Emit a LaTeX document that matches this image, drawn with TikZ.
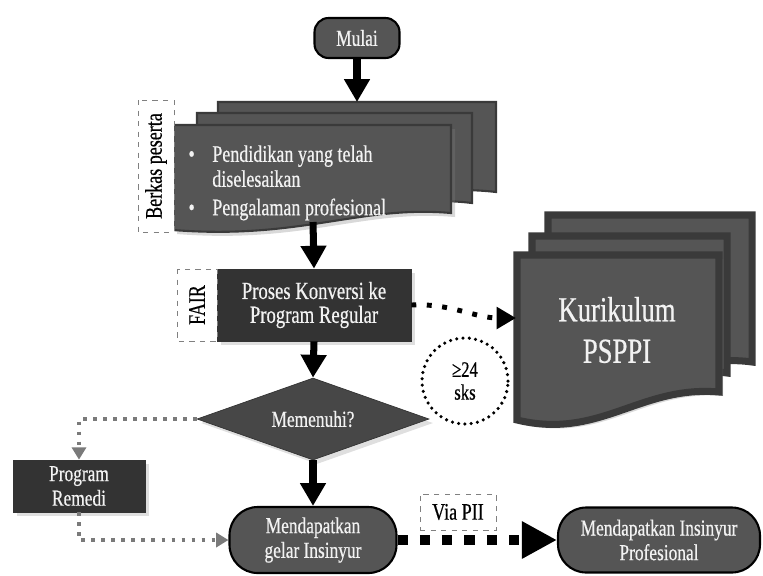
\documentclass[tikz,border=0pt]{standalone}
\usepackage{fontspec}
\setmainfont{Liberation Serif}[FakeStretch=0.76, FakeBold=0.5]
\usetikzlibrary{arrows.meta,positioning,shapes.geometric,shadows}
\definecolor{flowdark}{HTML}{333333}
\definecolor{flowmid}{HTML}{555555}
\definecolor{flowedge}{HTML}{3A3A3A}
\definecolor{flowtext}{HTML}{F2F2F2}
\definecolor{flowgray}{HTML}{7A7A7A}

\begin{document}
\begin{tikzpicture}[x=0.02cm, y=-0.02cm,
  flowtxt/.style={text=flowtext, align=center, font=\fontsize{13}{14}\selectfont},
  procbox/.style={flowtxt, fill=flowdark, draw=black!80, inner sep=0pt,
    drop shadow={opacity=0.25}},
  termbox/.style={flowtxt, fill=flowmid, draw=black, line width=1.2pt, inner sep=0pt},
  tagbox/.style={draw=black!50, dashed, fill=white, inner sep=0pt,
    font=\fontsize{13.5}{14}\selectfont},
  sheet/.style={fill=flowmid, draw=flowedge, line width=1.2pt},
  bigsheet/.style={fill=flowmid, draw=flowedge, line width=4pt},
  mainarrow/.style={line width=4pt, -{Triangle[length=13pt,width=14pt]}},
  dotarrow/.style={line width=2.8pt, dash pattern=on 2.8pt off 6pt,
    -{Triangle[length=11pt,width=12pt]}},
  remedi/.style={flowgray, line width=2.2pt, dash pattern=on 2.2pt off 3.5pt,
    -{Triangle[length=7pt,width=8pt]}}
]
\useasboundingbox (0,0) rectangle (763,575);

% berkas peserta (stacked documents)
\draw[sheet] (218,102) -- (496,102) -- (496,192) .. controls (410,182) and (350,215) .. (218,205) -- cycle;
\draw[sheet] (197,113) -- (472,113) -- (472,203) .. controls (390,193) and (330,226) .. (197,216) -- cycle;
\draw[sheet, drop shadow={opacity=0.3}] (173,125) -- (451,125) -- (451,213)
    .. controls (360,205) and (300,240) .. (173,230) -- cycle;
\node[flowtxt, align=left, anchor=north west, inner sep=0pt, font=\fontsize{13.5}{14.2}\selectfont]
    (berkas) at (212,145)
    {\llap{\textbullet\hspace{10pt}}Pendidikan yang telah\\ diselesaikan\\[2pt]
     \llap{\textbullet\hspace{10pt}}Pengalaman profesional};
\node[tagbox, rotate=90, minimum width=2.64cm, minimum height=0.72cm] (berkastag) at (156,166) {Berkas peserta};
\coordinate (berkastop) at (357,102);
\coordinate (berkasbot) at (313,222);

% kurikulum PSPPI (stacked documents)
\draw[bigsheet] (548,215) -- (752,215) -- (752,362) .. controls (680,352) and (640,400) .. (548,390) -- cycle;
\draw[bigsheet] (532,236) -- (727,236) -- (727,373) .. controls (655,363) and (615,412) .. (532,402) -- cycle;
\draw[bigsheet, drop shadow={opacity=0.3}] (517,255) -- (719,255) -- (719,392)
    .. controls (640,385) and (600,440) .. (517,420) -- cycle;
\node[flowtxt, font=\fontsize{20}{23.6}\selectfont] (kurikulum) at (617,330) {Kurikulum\\PSPPI};
\coordinate (kurin) at (516,318);

% flow nodes
\node[termbox, rounded corners=8pt, minimum width=1.7cm, minimum height=0.8cm] (mulai) at (357,38) {Mulai};
\node[procbox, font=\fontsize{14}{13.6}\selectfont, minimum width=3.88cm, minimum height=1.44cm]
    (proses) at (314,305) {Proses Konversi ke\\Program Regular};
\node[tagbox, rotate=90, minimum width=1.44cm, minimum height=0.8cm] (fair) at (197,305) {FAIR};
\node[procbox, diamond, aspect=2.9, fill=flowdark!90!white, minimum width=4.64cm, minimum height=1.64cm]
    (memenuhi) at (313,419) {Memenuhi?};
\node[procbox, minimum width=2.64cm, minimum height=1.04cm] (remedi) at (79,486) {Program\\Remedi};
\node[termbox, rounded corners=16pt, minimum width=3.34cm, minimum height=1.32cm]
    (gelar) at (313,540) {Mendapatkan\\gelar Insinyur};
\node[termbox, rounded corners=16pt, minimum width=4.04cm, minimum height=1.3cm]
    (profesional) at (659,540) {Mendapatkan Insinyur\\Profesional};
\node[tagbox, minimum width=1.52cm, minimum height=0.72cm] (viapii) at (458,512) {Via PII};
\node[circle, draw, line width=2pt, line cap=round, dash pattern=on 0pt off 3.6pt,
    minimum size=1.72cm, align=center, font=\fontsize{12.5}{13}\selectfont] (sks) at (465,381) {≥24\\sks};

% connectors
\draw[mainarrow] (mulai.south) -- (berkastop);
\draw[mainarrow] (berkasbot) -- (proses.north);
\draw[mainarrow] (proses.south) -- (memenuhi.north);
\draw[mainarrow] (memenuhi.south) -- (gelar.north);
\draw[dotarrow] (proses.east) .. controls (450,303) and (475,318) .. (kurin);
\draw[remedi] (memenuhi.west) -| (remedi.north);
\draw[remedi] (remedi.south) |- (gelar.west);
\draw[line width=5.7pt, dash pattern=on 5.7pt off 7pt, -{Triangle[length=20pt,width=20pt]}]
    (gelar.east) -- (profesional.west);
\end{tikzpicture}
\end{document}
